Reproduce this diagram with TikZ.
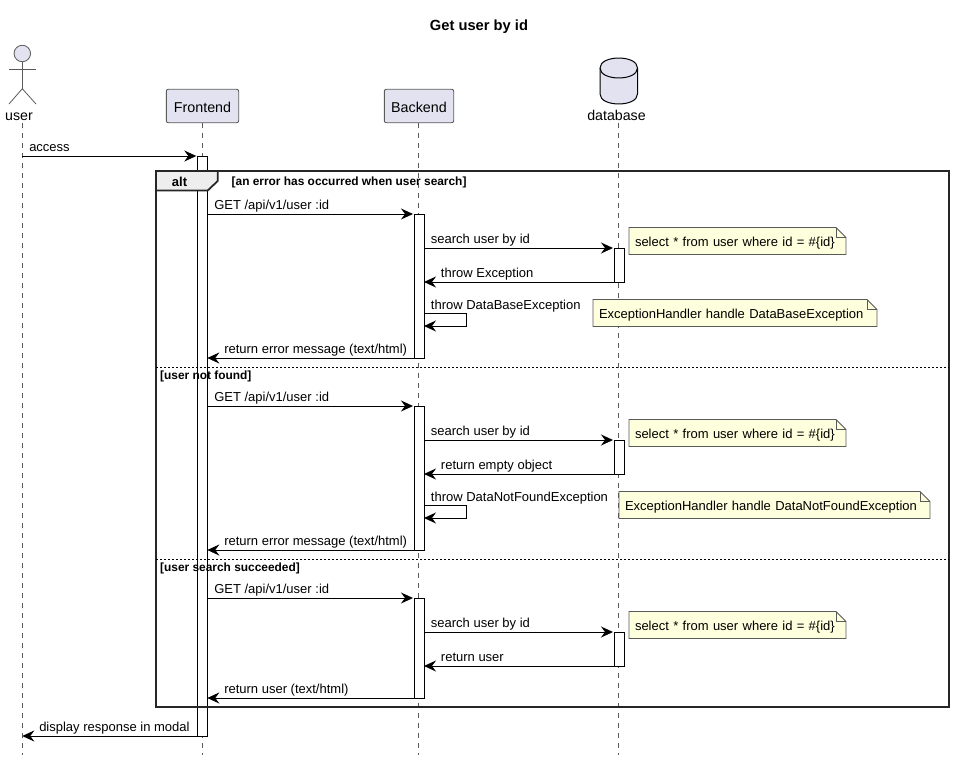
\documentclass[tikz,border=0pt]{standalone}
\usepackage{fontspec}
\setmainfont{Liberation Sans}
\usetikzlibrary{arrows.meta, calc}
\definecolor{partfill}{HTML}{E2E2F0}
\definecolor{partline}{HTML}{5A5A5A}
\definecolor{notefill}{HTML}{FEFFDD}
\definecolor{tabfill}{HTML}{EEEEEE}
\tikzset{
  participante/.style={
    draw=partline, fill=partfill, line width=0.9pt, rounded corners=2pt, minimum height=33.5pt,
    inner sep=0pt, outer sep=0pt, text height=12pt, text depth=0pt, font=\fontsize{14.3}{16}\selectfont
  },
  rotulo/.style={inner sep=0pt, font=\fontsize{14.2}{16}\selectfont},
  vida/.style={draw=partline, line width=0.8pt, dash pattern=on 5pt off 5pt},
  barra/.style={draw=black, fill=white, line width=0.9pt, minimum width=10pt, inner sep=0pt, outer sep=0pt},
  seta/.style={-{Stealth[length=12pt, width=11pt, inset=4pt]}, line width=0.9pt, black},
  setaD/.style={seta, shorten >=1pt},
  msg/.style={anchor=base west, inner sep=0pt, yshift=5pt, font=\fontsize{13}{15}\selectfont, text=black},
  nota/.style={
    fill=notefill, minimum height=27pt, inner xsep=6pt, inner ysep=0pt, outer sep=0pt, align=left,
    text height=11pt, text depth=0pt, font=\fontsize{13}{15}\selectfont
  },
  dobra/.style={draw=partline, line width=0.8pt},
  guarda/.style={anchor=base west, inner sep=0pt, font=\fontsize{11.9}{13}\bfseries\selectfont},
}
\begin{document}
\begin{tikzpicture}[x=1pt, y=-1pt]
\useasboundingbox (0,0) rectangle (955,760);

% Titulo
\node[font=\fontsize{14.7}{18}\bfseries\selectfont, inner sep=0pt] (titulo) at (479,26.5) {Get user by id};

% Ator
\node[circle, draw=partline, fill=partfill, line width=0.8pt, minimum size=16.5pt, inner sep=0pt, outer sep=0pt] (cabeca) at (22.3,53.5) {};
\coordinate (quadril) at (22.3,88.7);
\coordinate (bracoE) at (9,69.3);
\coordinate (bracoD) at (36,69.3);
\coordinate (peE) at (9,104);
\coordinate (peD) at (36,104);
\draw[dobra] (cabeca.south) -- (quadril);
\draw[dobra] (bracoE) -- (bracoD);
\draw[dobra] (peE) -- (quadril) -- (peD);
\node[rotulo] (user) at (19,116.5) {user};

% Participantes
\node[participante, minimum width=72.4pt] (frontend) at (202.5,106) {Frontend};
\node[participante, minimum width=69.4pt] (backend) at (419,106) {Backend};

% Banco de dados
\draw[draw=black, fill=partfill, line width=1pt] (600,68) .. controls (600,54.7) and (637.5,54.7) .. (637.5,68) -- (637.5,94) .. controls (637.5,107.3) and (600,107.3) .. (600,94) -- cycle;
\draw[draw=black, line width=1pt] (600,68) .. controls (600,81.3) and (637.5,81.3) .. (637.5,68);
\node[rotulo] (database) at (616.5,115) {database};

% Fim das linhas de vida
\coordinate (userfim) at (22.3,755);
\coordinate (frontfim) at (202.3,755);
\coordinate (backfim) at (418.5,755);
\coordinate (dbfim) at (618,755);
\coordinate (userini) at (22.3,123);
\coordinate (dbini) at (618,123);

% Linhas de vida
\draw[vida] (userini) -- (userfim);
\draw[vida] (frontend.south -| frontfim) -- (frontfim);
\draw[vida] (backend.south -| backfim) -- (backfim);
\draw[vida] (dbini) -- (dbfim);

% Barras de ativacao
\node[barra, minimum height=580pt] (barraF) at (202.3,446) {};
\node[barra, minimum height=144pt] (barraB1) at (419,286) {};
\node[barra, minimum height=144pt] (barraB2) at (419,478) {};
\node[barra, minimum height=100pt] (barraB3) at (419,648) {};
\node[barra, minimum height=34pt] (barraD1) at (619,265) {};
\node[barra, minimum height=34pt] (barraD2) at (619,457) {};
\node[barra, minimum height=34pt] (barraD3) at (619,649) {};

% Quadro alt
\node[draw=black!85, line width=1.8pt, minimum width=793pt, minimum height=536pt, inner sep=0pt, outer sep=0pt] (quadro) at (552.5,439) {};
\coordinate (abaA) at (217.7,171);
\coordinate (abaB) at (217.7,181);
\coordinate (abaC) at (207.7,190.5);
\coordinate (abaD) at (156,190.5);
\draw[draw=black!85, line width=1.8pt, fill=tabfill] (quadro.north west) -- (abaA) -- (abaB) -- (abaC) -- (abaD) -- cycle;
\node[font=\fontsize{13}{15}\bfseries\selectfont, inner sep=0pt] (alt) at (179.5,182) {alt};
\node[guarda] (guarda1) at (231.5,185) {[an error has occurred when user search]};

% Divisorias
\coordinate (div1) at (156,367);
\coordinate (div2) at (156,559);
\draw[line width=0.8pt, dash pattern=on 2pt off 2pt] (div1) -- (div1 -| quadro.east);
\draw[line width=0.8pt, dash pattern=on 2pt off 2pt] (div2) -- (div2 -| quadro.east);
\node[guarda] (guarda2) at (160,379) {[user not found]};
\node[guarda] (guarda3) at (160,571) {[user search succeeded]};

% Acesso
\coordinate (userA) at (22.3,156);
\draw[setaD] (userA) -- node[msg, pos=0, xshift=6.5pt]{access} (barraF.north west);

% Caso 1
\draw[setaD] (barraF.east |- barraB1.north) -- node[msg, pos=0, xshift=6.5pt]{GET /api/v1/user :id} (barraB1.north west);
\draw[setaD] (barraB1.east |- barraD1.north) -- node[msg, pos=0, xshift=6.5pt]{search user by id} (barraD1.north west);
\draw[seta] (barraD1.south west) -- node[msg, pos=1, xshift=16.5pt]{throw Exception} (barraB1.east |- barraD1.south);
\coordinate (laco1a) at (466,313);
\coordinate (laco1b) at (466,326);
\draw[seta] (barraB1.east |- laco1a) -- node[msg, pos=0, xshift=6.5pt, yshift=-1pt]{throw DataBaseException} (laco1a) -- (laco1b) -- (barraB1.east |- laco1b);
\draw[seta] (barraB1.south west) -- node[msg, pos=1, xshift=16.5pt]{return error message (text/html)} (barraF.east |- barraB1.south);

% Caso 2
\draw[setaD] (barraF.east |- barraB2.north) -- node[msg, pos=0, xshift=6.5pt]{GET /api/v1/user :id} (barraB2.north west);
\draw[setaD] (barraB2.east |- barraD2.north) -- node[msg, pos=0, xshift=6.5pt]{search user by id} (barraD2.north west);
\draw[seta] (barraD2.south west) -- node[msg, pos=1, xshift=16.5pt]{return empty object} (barraB2.east |- barraD2.south);
\coordinate (laco2a) at (466,505);
\coordinate (laco2b) at (466,518);
\draw[seta] (barraB2.east |- laco2a) -- node[msg, pos=0, xshift=6.5pt, yshift=-1pt]{throw DataNotFoundException} (laco2a) -- (laco2b) -- (barraB2.east |- laco2b);
\draw[seta] (barraB2.south west) -- node[msg, pos=1, xshift=16.5pt]{return error message (text/html)} (barraF.east |- barraB2.south);

% Caso 3
\draw[setaD] (barraF.east |- barraB3.north) -- node[msg, pos=0, xshift=6.5pt]{GET /api/v1/user :id} (barraB3.north west);
\draw[setaD] (barraB3.east |- barraD3.north) -- node[msg, pos=0, xshift=6.5pt]{search user by id} (barraD3.north west);
\draw[seta] (barraD3.south west) -- node[msg, pos=1, xshift=16.5pt]{return user} (barraB3.east |- barraD3.south);
\draw[seta] (barraB3.south west) -- node[msg, pos=1, xshift=16.5pt]{return user (text/html)} (barraF.east |- barraB3.south);

% Resposta
\coordinate (userZ) at (22.3,736);
\draw[seta] (barraF.south west) -- node[msg, pos=1, xshift=16.5pt]{display response in modal} (userZ);

% Notas
\node[nota, text width=205pt] (nota1) at (737.5,241) {select * from user where id = \#\{id\}};
\node[nota, text width=272pt] (nota2) at (735,313) {ExceptionHandler handle DataBaseException};
\node[nota, text width=205pt] (nota3) at (737.5,433) {select * from user where id = \#\{id\}};
\node[nota, text width=299pt] (nota4) at (774.5,505) {ExceptionHandler handle DataNotFoundException};
\node[nota, text width=205pt] (nota5) at (737.5,625) {select * from user where id = \#\{id\}};
\foreach \n in {nota1,nota2,nota3,nota4,nota5}{
  \fill[white] ($(\n.north east)+(-10,0)$) -- (\n.north east) -- ($(\n.north east)+(0,10)$) -- cycle;
  \draw[dobra] (\n.north west) -- ($(\n.north east)+(-10,0)$) -- ($(\n.north east)+(0,10)$) -- (\n.south east) -- (\n.south west) -- cycle;
  \draw[dobra] ($(\n.north east)+(-10,0)$) -- ($(\n.north east)+(-10,10)$) -- ($(\n.north east)+(0,10)$);
}

\end{tikzpicture}
\end{document}
